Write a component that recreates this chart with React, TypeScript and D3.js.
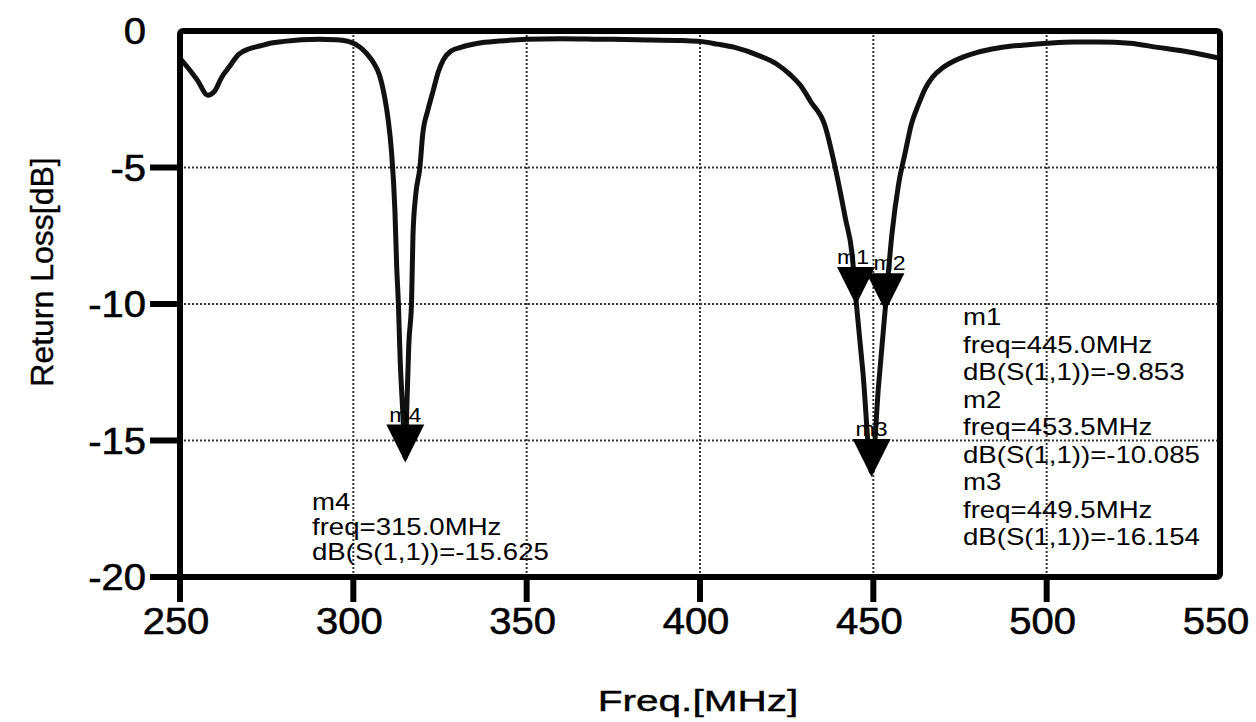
import React from 'react';
import * as d3 from 'd3';

const width = 1256;
const height = 722;

// S11 trace: frequency [MHz] and dB
const freq = [
  250, 252, 255, 258, 260, 262, 264, 267, 270, 273, 276, 280, 285, 290, 295, 299,
  302, 304, 306, 307.5, 309, 310, 311, 312, 312.5, 313, 313.5, 314.2, 315, 315.5,
  316, 316.8, 317.2, 318, 319.2, 320, 321.5, 323, 324.5, 326, 328, 331, 336, 342,
  350, 360, 371, 382, 395, 400, 405, 410, 417, 422, 426, 429, 432, 436, 439, 442,
  443.8, 445, 447, 449.5, 451.5, 453.5, 455.4, 457.3, 459.2, 461, 463, 465, 467,
  470, 473, 476, 480, 486, 493, 500, 508, 515, 524, 532, 541, 550,
];
const s11 = [
  -1.0, -1.3, -1.8, -2.35, -2.2, -1.7, -1.35, -0.85, -0.65, -0.55, -0.45, -0.38, -0.32, -0.3, -0.32, -0.4,
  -0.6, -0.85, -1.2, -1.6, -2.4, -3.2, -4.4, -6.6, -8.6, -10.0, -12.0, -13.8, -15.625, -13.5,
  -11.5, -9.9, -7.5, -6.0, -5.0, -3.8, -2.9, -2.2, -1.5, -1.05, -0.75, -0.6, -0.45, -0.37,
  -0.3, -0.28, -0.3, -0.32, -0.35, -0.38, -0.48, -0.6, -0.9, -1.2, -1.6, -2.0, -2.6, -3.45, -5.0, -6.9,
  -8.1, -9.853, -12.5, -16.154, -13.0, -10.085, -7.4, -5.6, -4.45, -3.4, -2.7, -2.1, -1.7,
  -1.35, -1.12, -0.95, -0.78, -0.62, -0.52, -0.45, -0.4, -0.4, -0.45, -0.6, -0.77, -1.0,
];

const xTicks = [250, 300, 350, 400, 450, 500, 550];
const yTicks = [0, -5, -10, -15, -20];

const markerNames = ['m1', 'm2', 'm3', 'm4'];
const markerFreq = [445.0, 453.5, 449.5, 315.0];
const markerDb = [-9.853, -10.085, -16.154, -15.625];
// small horizontal nudge of the marker names so m1/m2 sit side by side
const markerNudge = [-3, 4, 0, 0];

const rightBlock = [
  'm1', 'freq=445.0MHz', 'dB(S(1,1))=-9.853',
  'm2', 'freq=453.5MHz', 'dB(S(1,1))=-10.085',
  'm3', 'freq=449.5MHz', 'dB(S(1,1))=-16.154',
];
const leftBlock = ['m4', 'freq=315.0MHz', 'dB(S(1,1))=-15.625'];

const font = "'Liberation Sans', Arial, Helvetica, sans-serif";

export default function App() {
  const x = d3.scaleLinear().domain([250, 550]).range([180, 1220]);
  const y = d3.scaleLinear().domain([-20, 0]).range([577, 31]);

  const pts = freq.map((f, i) => [f, s11[i]] as [number, number]);
  const line = d3.line<[number, number]>()
    .x(d => x(d[0]))
    .y(d => y(d[1]))
    .curve(d3.curveMonotoneX);

  const x0 = x(250), x1 = x(550), yTop = y(0), yBot = y(-20);
  const tri = 38;

  return (
    <svg width={width} height={height}
      style={{ position: 'absolute', left: 0, top: 0, background: '#fff' }}
      fontFamily={font}>
      {/* grid */}
      {xTicks.slice(1, -1).map(t => (
        <line key={'gx' + t} x1={x(t)} x2={x(t)} y1={yTop} y2={yBot}
          stroke="#333" strokeWidth={2} strokeDasharray="2 2" />
      ))}
      {yTicks.slice(1, -1).map(t => (
        <line key={'gy' + t} x1={x0} x2={x1} y1={y(t)} y2={y(t)}
          stroke="#333" strokeWidth={2} strokeDasharray="2 2" />
      ))}

      {/* curve */}
      <path d={line(pts) || ''} fill="none" stroke="#111" strokeWidth={5} strokeLinejoin="round" />

      {/* frame */}
      <rect x={x0} y={yTop} width={x1 - x0} height={yBot - yTop} rx={3}
        fill="none" stroke="#000" strokeWidth={6} />

      {/* x ticks */}
      {xTicks.map(t => (
        <g key={'xt' + t}>
          {t !== 550 && (
            <line x1={x(t)} x2={x(t)} y1={yBot} y2={yBot + 25} stroke="#000" strokeWidth={6} />
          )}
          <text transform={`translate(${x(t) - 4},634) scale(1.08,1)`} textAnchor="middle"
            fontSize={37} stroke="#000" strokeWidth={0.6}>{t}</text>
        </g>
      ))}

      {/* y ticks */}
      {yTicks.map(t => (
        <g key={'yt' + t}>
          {t !== 0 && (
            <line x1={x0 - 30} x2={x0} y1={y(t)} y2={y(t)} stroke="#000" strokeWidth={6} />
          )}
          <text transform={`translate(146,${y(t) + 13}) scale(1.08,1)`} textAnchor="end"
            fontSize={37} stroke="#000" strokeWidth={0.6}>{t}</text>
        </g>
      ))}

      {/* axis titles */}
      <text transform="translate(53,272) rotate(-90)" textAnchor="middle" fontSize={32}
        stroke="#000" strokeWidth={0.4}>
        Return Loss[dB]
      </text>
      <text transform="translate(698,711) scale(1.4,1)" textAnchor="middle" fontSize={29}
        stroke="#000" strokeWidth={0.4}>
        Freq.[MHz]
      </text>

      {/* markers */}
      {markerNames.map((m, i) => {
        const mx = x(markerFreq[i]);
        const my = y(markerDb[i]) + 5;
        return (
          <g key={m}>
            <path d={`M${mx - tri / 2},${my - tri}L${mx + tri / 2},${my - tri}L${mx},${my}Z`} fill="#000" />
            <text transform={`translate(${mx + markerNudge[i]},${my - tri - 3}) scale(1.1,1)`}
              textAnchor="middle" fontSize={21}>{m}</text>
          </g>
        );
      })}

      {/* marker readouts */}
      {rightBlock.map((s, i) => (
        <text key={'r' + i} transform={`translate(963,${325 + i * 27.5}) scale(1.2,1)`}
          fontSize={23}>{s}</text>
      ))}
      {leftBlock.map((s, i) => (
        <text key={'l' + i} transform={`translate(312,${510 + i * 25}) scale(1.2,1)`}
          fontSize={23}>{s}</text>
      ))}
    </svg>
  );
}
